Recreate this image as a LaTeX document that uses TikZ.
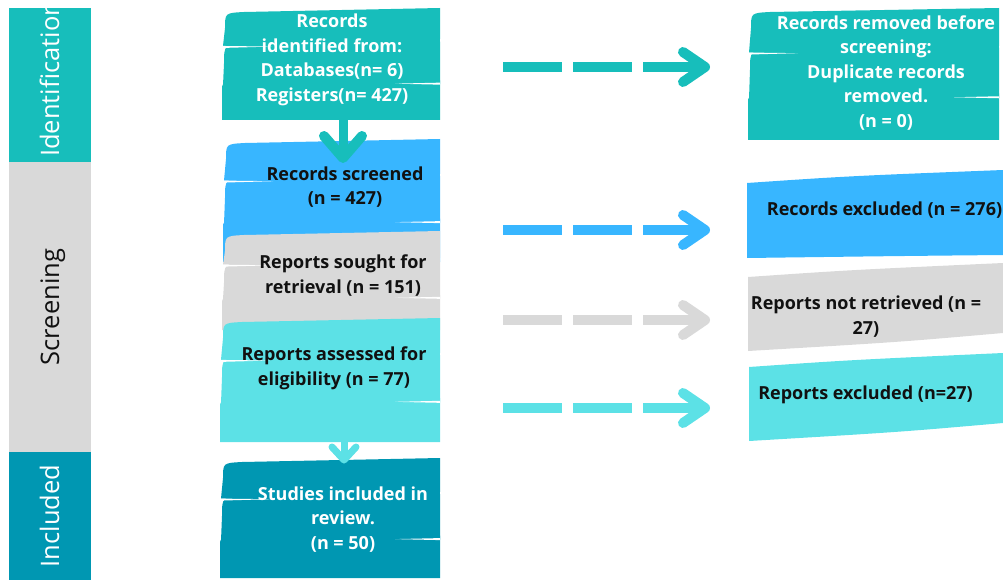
\documentclass[tikz,border=0pt]{standalone}
\usepackage{fontspec}
\setmainfont{Open Sans}
\definecolor{cteal}{HTML}{17BEBB}
\definecolor{cblue}{HTML}{38B6FF}
\definecolor{cgray}{HTML}{D9D9D9}
\definecolor{ccyan}{HTML}{5CE1E6}
\definecolor{cdark}{HTML}{0097B2}
\definecolor{ctext}{HTML}{111111}
\newcommand{\brushbox}[5]{%
 \pgfmathsetmacro{\bxa}{#1}\pgfmathsetmacro{\bya}{#2}%
 \pgfmathsetmacro{\bxb}{#3}\pgfmathsetmacro{\byb}{#4}%
 \pgfmathsetmacro{\bh}{\byb-\bya}%
 \pgfmathsetmacro{\sA}{\bya+0.33*\bh}%
 \pgfmathsetmacro{\sB}{\bya+0.30*\bh}%
 \pgfmathsetmacro{\sC}{\bya+0.68*\bh}%
 \pgfmathsetmacro{\sD}{\bya+0.655*\bh}%
 \fill[#5] (\bxb,\bya) -- ({\bxa+22},{\bya+4}) .. controls ({\bxa+3},{\bya+5}) .. ({\bxa+3},{\bya+20}) -- ({\bxa+1},{\sA+1}) -- ({\bxb-6},\sA) .. controls (\bxb,\sA) .. (\bxb,{\sA-6}) -- cycle;
 \fill[#5] (\bxb,\sB) -- ({\bxa+25},{\sB+1}) .. controls ({\bxa+2},{\sB+3}) .. ({\bxa+2},{\sB+22}) -- ({\bxa+1},{\sC+1}) -- (\bxb,\sC) -- cycle;
 \fill[#5] (\bxb,{\sD-1}) -- ({\bxa+12},\sD) .. controls (\bxa,{\sD+1}) .. (\bxa,{\sD+10}) -- (\bxa,\byb) -- (\bxb,\byb) -- cycle;
 \fill[white] (\bxa,{\sA+1}) -- ({\bxa+50},{\sA+1.6}) -- (\bxa,{\sA+3}) -- cycle;
 \fill[white] (\bxb,{\sC-1.5}) -- ({\bxb-45},{\sC-0.5}) -- (\bxb,{\sC+0.5}) -- cycle;
}
\tikzset{
 lab/.style={font=\fontsize{25.5}{30}\selectfont, rotate=90, inner sep=0pt},
 boxtxt/.style={font=\fontsize{18}{24.5}\selectfont\bfseries, align=center, inner sep=0pt},
 dashar/.style={line width=10pt, dash pattern=on 59pt off 11pt},
 headar/.style={line width=10pt, line cap=round, line join=round},
}
\begin{document}
\begin{tikzpicture}[x=1pt,y=-1pt]
\useasboundingbox (0,0) rectangle (1003,580);
% stage bands
\fill[cteal] (9,8) rectangle (91,162);
\fill[cgray] (9,162) rectangle (91,452);
\fill[cdark] (9,452) rectangle (91,580);
\begin{scope}
\clip (9,8) rectangle (91,162);
\node[lab, anchor=base west, text=white] (lid) at (59,157) {Identification};
\end{scope}
\node[lab, anchor=base, text=ctext] (lsc) at (59,307) {Screening};
\node[lab, anchor=base, text=white] (lin) at (59,516) {Included};
% centre column
\brushbox{222}{8}{440}{120}{cteal}
\brushbox{223}{139}{440}{262}{cblue}
\coordinate (v1s) at (343,118);
\coordinate (v1e) at (343,158);
\draw[cteal, line width=9pt] (v1s) -- (v1e);
\draw[cteal, headar] ([shift={(-19,-22)}]v1e) -- (v1e) -- ([shift={(19,-22)}]v1e);
\brushbox{222}{231}{440}{330}{cgray}
\brushbox{220}{318}{440}{442}{ccyan}
\brushbox{220}{458}{440}{578}{cdark}
\coordinate (v2s) at (344,440);
\coordinate (v2e) at (344,460);
\draw[ccyan, line width=7pt] (v2s) -- (v2e);
\draw[ccyan, line width=7pt, line cap=round, line join=round] ([shift={(-12,-13)}]v2e) -- (v2e) -- ([shift={(12,-13)}]v2e);
\node[boxtxt, text=white] (t1) at (332,60) {Records\\identified from:\\Databases(n= 6)\\Registers(n= 427)};
\node[boxtxt, text=ctext] (t2) at (345,187) {Records screened\\(n = 427)};
\node[boxtxt, text=ctext] (t3) at (343,275.5) {Reports sought for\\retrieval (n = 151)};
\node[boxtxt, text=ctext] (t4) at (334,368.5) {Reports assessed for\\eligibility (n = 77)};
\node[boxtxt, text=white] (t5) at (343,519.5) {Studies included in\\review.\\(n = 50)};
% right column
\brushbox{748}{8}{999}{140}{cteal}
\fill[cblue] (747,183) .. controls (850,176) .. (1003,170) -- (1003,255) .. controls (900,256) .. (747,258) -- cycle;
\fill[cgray] (748,277) .. controls (850,270) .. (1003,263) -- (1003,333) .. controls (900,342) .. (748,351) -- cycle;
\fill[ccyan] (749,367) .. controls (850,360) .. (1003,353) -- (1003,423) .. controls (900,432) .. (749,441) -- cycle;
\node[boxtxt, text=white] (r1) at (886,73) {Records removed before\\screening:\\Duplicate records\\removed.\\(n = 0)};
\node[boxtxt, text=ctext, anchor=base] (r2) at (884.5,215) {Records excluded (n = 276)};
\node[boxtxt, text=ctext] (r3) at (866,316.5) {Reports not retrieved (n =\\27)};
\node[boxtxt, text=ctext, anchor=base] (r4) at (865.5,399) {Reports excluded (n=27)};
% dashed arrows
\coordinate (a1s) at (503,67);  \coordinate (a1e) at (705,67);
\coordinate (a2s) at (503,230); \coordinate (a2e) at (705,230);
\coordinate (a3s) at (503,320); \coordinate (a3e) at (705,320);
\coordinate (a4s) at (503,408); \coordinate (a4e) at (705,408);
\draw[cteal, dashar] (a1s) -- (a1e);
\draw[cteal, headar] ([shift={(-22,-15)}]a1e) -- (a1e) -- ([shift={(-22,15)}]a1e);
\draw[cblue, dashar] (a2s) -- (a2e);
\draw[cblue, headar] ([shift={(-22,-15)}]a2e) -- (a2e) -- ([shift={(-22,15)}]a2e);
\draw[cgray, dashar] (a3s) -- (a3e);
\draw[cgray, headar] ([shift={(-22,-15)}]a3e) -- (a3e) -- ([shift={(-22,15)}]a3e);
\draw[ccyan, dashar] (a4s) -- (a4e);
\draw[ccyan, headar] ([shift={(-22,-15)}]a4e) -- (a4e) -- ([shift={(-22,15)}]a4e);
\end{tikzpicture}
\end{document}
